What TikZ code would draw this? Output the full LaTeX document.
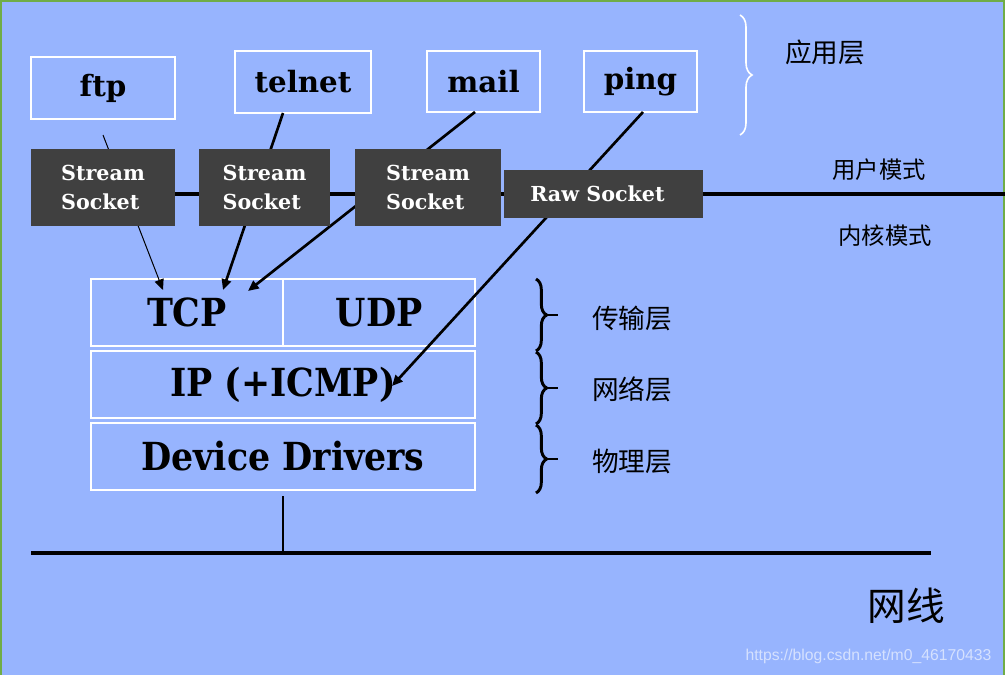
\documentclass[tikz,border=0pt]{standalone}
\usepackage{fontspec}
\setmainfont{DejaVu Serif}
\newfontfamily\condserif{DejaVu Serif Condensed}
\newfontfamily\cjk{Noto Sans CJK SC}
\newfontfamily\wmfont{Liberation Sans}
\usetikzlibrary{arrows.meta,decorations.pathreplacing,calc}
\definecolor{bg}{HTML}{97B4FE}
\definecolor{sockgray}{HTML}{404040}
\definecolor{frame}{HTML}{70AD47}
\tikzset{
  pxbox/.style 2 args={minimum width=#1*0.75pt, minimum height=#2*0.75pt, inner sep=0pt, outer sep=0pt},
  app/.style={draw=white, line width=1.5pt, font=\bfseries\fontsize{22}{25}\selectfont},
  sock/.style={fill=sockgray, text=white, font=\bfseries\fontsize{15.5}{21.75}\selectfont, align=left},
  layer/.style={draw=white, line width=1.5pt, font=\condserif\bfseries\fontsize{29}{32}\selectfont},
  conn/.style={line width=2pt, -{Triangle[length=8pt,width=7pt]}},
  thinconn/.style={line width=0.75pt, -{Triangle[length=8pt,width=7pt]}},
  cjkbig/.style={font=\cjk\fontsize{20}{24}\selectfont},
  cjksmall/.style={font=\cjk\fontsize{17.5}{21}\selectfont},
  wire/.style={line width=2.4pt},
}
\begin{document}
\begin{tikzpicture}[x=0.75pt,y=-0.75pt]
\fill[bg] (0,0) rectangle (1005,675);
\useasboundingbox (0,0) rectangle (1005,675);
\draw[frame, line width=1.5pt] (0.5,675) -- (0.5,1) -- (1003.5,1) -- (1003.5,675);

% application boxes
\node[app, pxbox={144}{62}] (ftp) at (103,88) {ftp};
\node[app, pxbox={136}{62}] (telnet) at (303,82) {telnet};
\node[app, pxbox={113}{61}] (mail) at (483.5,81.5) {mail};
\node[app, pxbox={113}{61}] (ping) at (640.5,81.5) {ping};

% protocol stack
\node[layer, pxbox={192}{67}] (tcp) at (187,312.5) {TCP};
\node[layer, pxbox={192}{67}] (udp) at (379,312.5) {UDP};
\node[layer, pxbox={384}{67}] (ip) at (283,384.5) {IP (+ICMP)};
\node[layer, pxbox={384}{67}] (dd) at (283,456.5) {Device Drivers};

% user/kernel boundary
\coordinate (bndL) at (175,194);
\coordinate (bndR) at (1005,194);
\draw[wire] (bndL) -- (bndR);

% connectors
\coordinate (ftpout) at ($(ftp.south)+(0,16)$);
\draw[thinconn] (ftpout) -- ($(tcp.north west)+(72,11)$);
\draw[conn] ($(telnet.south)+(-20,0)$) -- ($(tcp.north west)+(132,11)$);
\draw[conn] ($(mail.south)+(-8.5,0)$) -- ($(tcp.north west)+(157,12)$);
\draw[conn] ($(ping.south)+(2.5,0)$) -- ($(ip.north west)+(301,35)$);

% sockets
\node[sock, pxbox={144}{77}] (s1) at (103,187.5) {Stream\\Socket};
\node[sock, pxbox={131}{77}] (s2) at (264.5,187.5) {Stream\\Socket};
\node[sock, pxbox={146}{77}] (s3) at (428,187.5) {Stream\\Socket};
\node[sock, pxbox={199}{48}] (raw) at (603.5,194) {Raw Socket\hspace*{9pt}};

% braces
\draw[white, line width=1.2pt, decorate, decoration={brace, amplitude=9pt}] (740,15) -- (740,135);
\foreach \a/\b/\m in {279/351/315, 352/424/388, 425/493/459}{
  \draw[line width=2.2pt, decorate, decoration={brace, amplitude=8pt}] (536,\a) -- (536,\b);
  \draw[line width=2.2pt] (547,\m) -- (558,\m);
}

% labels
\node[cjkbig] (app) at (825,52) {应用层};
\node[cjksmall] (user) at (879,170) {用户模式};
\node[cjksmall] (kern) at (885,236) {内核模式};
\node[cjkbig] (trans) at (632,318) {传输层};
\node[cjkbig] (net) at (632,389) {网络层};
\node[cjkbig] (phy) at (632,461) {物理层};

% network wire
\coordinate (wireL) at (31,553);
\coordinate (wireR) at (931,553);
\coordinate (tap) at (283,553);
\draw[line width=1.5pt] ($(dd.south)+(0,6)$) -- (tap);
\draw[wire] (wireL) -- (wireR);
\node[font=\cjk\fontsize{29}{32}\selectfont] (wlabel) at (906,606) {网线};

% watermark
\node[anchor=east, font=\wmfont\fontsize{11.8}{13}\selectfont, text=white, opacity=0.6] (wm) at (996,656) {https://blog.csdn.net/m0\_46170433};
\end{tikzpicture}
\end{document}
